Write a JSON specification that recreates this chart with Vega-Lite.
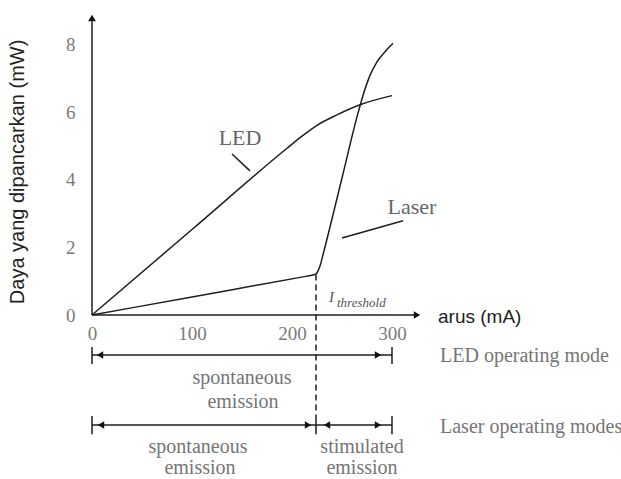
{
  "$schema": "https://vega.github.io/schema/vega-lite/v6.json",
  "width": 621,
  "height": 479,
  "padding": 0,
  "autosize": {"type": "none"},
  "background": "white",
  "config": {"view": {"stroke": null}},
  "datasets": {
    "curves": [
      {"series": "LED", "x": 0, "y": 0},
      {"series": "LED", "x": 100, "y": 2.533},
      {"series": "LED", "x": 195, "y": 4.94},
      {"series": "LED", "x": 210, "y": 5.3},
      {"series": "LED", "x": 225, "y": 5.62},
      {"series": "LED", "x": 245, "y": 5.93},
      {"series": "LED", "x": 270, "y": 6.25},
      {"series": "LED", "x": 300, "y": 6.5},
      {"series": "Laser", "x": 0, "y": 0},
      {"series": "Laser", "x": 100, "y": 0.536},
      {"series": "Laser", "x": 215, "y": 1.152},
      {"series": "Laser", "x": 220, "y": 1.179},
      {"series": "Laser", "x": 224, "y": 1.22},
      {"series": "Laser", "x": 228, "y": 1.45},
      {"series": "Laser", "x": 232, "y": 1.9},
      {"series": "Laser", "x": 250, "y": 4.06},
      {"series": "Laser", "x": 266, "y": 5.98},
      {"series": "Laser", "x": 272, "y": 6.6},
      {"series": "Laser", "x": 278, "y": 7.1},
      {"series": "Laser", "x": 285, "y": 7.5},
      {"series": "Laser", "x": 293, "y": 7.8},
      {"series": "Laser", "x": 301, "y": 8.05}
    ],
    "rules": [
      {"part": "y-axis", "x": 0, "y": 0, "x2": 0, "y2": 8.7},
      {"part": "x-axis", "x": 0, "y": 0, "x2": 322, "y2": 0},
      {"part": "LED pointer", "x": 140, "y": 4.77, "x2": 158, "y2": 4.27},
      {"part": "Laser pointer", "x": 250, "y": 2.28, "x2": 311, "y2": 2.79},
      {"part": "LED mode", "x": 0, "y": -1.185, "x2": 300, "y2": -1.185},
      {"part": "LED mode start", "x": 0, "y": -0.948, "x2": 0, "y2": -1.452},
      {"part": "LED mode end", "x": 300, "y": -0.948, "x2": 300, "y2": -1.452},
      {"part": "Laser modes", "x": 0, "y": -3.259, "x2": 300, "y2": -3.259},
      {"part": "Laser start", "x": 0, "y": -2.99, "x2": 0, "y2": -3.53},
      {"part": "Laser threshold", "x": 224, "y": -2.99, "x2": 224, "y2": -3.53},
      {"part": "Laser end", "x": 300, "y": -2.99, "x2": 300, "y2": -3.53}
    ],
    "threshold": [
      {"x": 224, "y": 1.2, "x2": 224, "y2": -3.0}
    ],
    "arrows": [
      {"dir": "up", "x": 0, "y": 8.8},
      {"dir": "right", "x": 325, "y": 0},
      {"dir": "left", "x": 8, "y": -1.185},
      {"dir": "right", "x": 286, "y": -1.185},
      {"dir": "left", "x": 9, "y": -3.259},
      {"dir": "right", "x": 216, "y": -3.259},
      {"dir": "left", "x": 235, "y": -3.259},
      {"dir": "right", "x": 286, "y": -3.259}
    ],
    "labels": [
      {"grp": "big", "text": "LED", "x": 148, "y": 5.24},
      {"grp": "big", "text": "Laser", "x": 320, "y": 3.2},
      {"grp": "mid", "text": "spontaneous", "x": 150, "y": -1.867},
      {"grp": "mid", "text": "emission", "x": 151, "y": -2.578},
      {"grp": "mid", "text": "spontaneous", "x": 106, "y": -3.911},
      {"grp": "mid", "text": "emission", "x": 108, "y": -4.533},
      {"grp": "mid", "text": "stimulated", "x": 270, "y": -3.911},
      {"grp": "mid", "text": "emission", "x": 270, "y": -4.533},
      {"grp": "side", "text": "LED operating mode", "x": 348, "y": -1.215},
      {"grp": "side", "text": "Laser operating modes", "x": 348, "y": -3.319},
      {"grp": "I", "text": "I", "x": 237, "y": 0.53},
      {"grp": "sub", "text": "threshold", "x": 245, "y": 0.36},
      {"grp": "xtitle", "text": "arus (mA)", "x": 346, "y": -0.06},
      {"grp": "ytitle", "text": "Daya yang dipancarkan (mW)", "x": -74, "y": 4.24}
    ]
  },
  "encoding": {
    "x": {
      "field": "x",
      "type": "quantitative",
      "scale": {"domain": [-92, 529], "nice": false, "zero": false},
      "axis": {
        "orient": "bottom",
        "offset": -164,
        "values": [0, 100, 200, 300],
        "domain": false,
        "ticks": false,
        "tickSize": 0,
        "grid": false,
        "title": null,
        "labelPadding": 9,
        "labelFont": "Liberation Serif",
        "labelFontSize": 19,
        "labelColor": "#7a7a7a"
      }
    },
    "y": {
      "field": "y",
      "type": "quantitative",
      "scale": {"domain": [-4.859, 9.333], "nice": false, "zero": false},
      "axis": {
        "orient": "left",
        "offset": -92,
        "values": [0, 2, 4, 6, 8],
        "domain": false,
        "ticks": false,
        "tickSize": 0,
        "grid": false,
        "title": null,
        "labelPadding": 17,
        "labelFont": "Liberation Serif",
        "labelFontSize": 19,
        "labelColor": "#7a7a7a"
      }
    }
  },
  "layer": [
    {
      "data": {"name": "curves"},
      "mark": {"type": "line", "interpolate": "monotone", "color": "#1e1e1e", "strokeWidth": 1.5},
      "encoding": {"detail": {"field": "series"}}
    },
    {
      "data": {"name": "rules"},
      "mark": {"type": "rule", "color": "#1e1e1e", "strokeWidth": 1.5},
      "encoding": {"x2": {"field": "x2"}, "y2": {"field": "y2"}}
    },
    {
      "data": {"name": "threshold"},
      "mark": {"type": "rule", "color": "#1e1e1e", "strokeWidth": 1.5, "strokeDash": [6, 4]},
      "encoding": {"x2": {"field": "x2"}, "y2": {"field": "y2"}}
    },
    {
      "data": {"name": "arrows"},
      "transform": [{"filter": "datum.dir === 'up'"}],
      "mark": {"type": "point", "shape": "triangle-up", "filled": true, "color": "#111", "size": 60, "opacity": 1}
    },
    {
      "data": {"name": "arrows"},
      "transform": [{"filter": "datum.dir === 'right'"}],
      "mark": {"type": "point", "shape": "triangle-right", "filled": true, "color": "#111", "size": 55, "opacity": 1}
    },
    {
      "data": {"name": "arrows"},
      "transform": [{"filter": "datum.dir === 'left'"}],
      "mark": {"type": "point", "shape": "triangle-left", "filled": true, "color": "#111", "size": 55, "opacity": 1}
    },
    {
      "data": {"name": "labels"},
      "transform": [{"filter": "datum.grp === 'big'"}],
      "mark": {"type": "text", "font": "Liberation Serif", "fontSize": 22, "color": "#666", "align": "center", "baseline": "middle"},
      "encoding": {"text": {"field": "text"}}
    },
    {
      "data": {"name": "labels"},
      "transform": [{"filter": "datum.grp === 'mid'"}],
      "mark": {"type": "text", "font": "Liberation Serif", "fontSize": 20, "color": "#757575", "align": "center", "baseline": "middle"},
      "encoding": {"text": {"field": "text"}}
    },
    {
      "data": {"name": "labels"},
      "transform": [{"filter": "datum.grp === 'side'"}],
      "mark": {"type": "text", "font": "Liberation Serif", "fontSize": 20, "color": "#757575", "align": "left", "baseline": "middle"},
      "encoding": {"text": {"field": "text"}}
    },
    {
      "data": {"name": "labels"},
      "transform": [{"filter": "datum.grp === 'I'"}],
      "mark": {"type": "text", "font": "Liberation Serif", "fontStyle": "italic", "fontSize": 15, "color": "#555", "align": "left", "baseline": "middle"},
      "encoding": {"text": {"field": "text"}}
    },
    {
      "data": {"name": "labels"},
      "transform": [{"filter": "datum.grp === 'sub'"}],
      "mark": {"type": "text", "font": "Liberation Serif", "fontStyle": "italic", "fontSize": 13, "color": "#555", "align": "left", "baseline": "middle"},
      "encoding": {"text": {"field": "text"}}
    },
    {
      "data": {"name": "labels"},
      "transform": [{"filter": "datum.grp === 'xtitle'"}],
      "mark": {"type": "text", "font": "Liberation Sans", "fontSize": 19, "color": "#222", "align": "left", "baseline": "middle"},
      "encoding": {"text": {"field": "text"}}
    },
    {
      "data": {"name": "labels"},
      "transform": [{"filter": "datum.grp === 'ytitle'"}],
      "mark": {"type": "text", "font": "Liberation Sans", "fontSize": 20, "color": "#222", "align": "center", "baseline": "middle", "angle": 270},
      "encoding": {"text": {"field": "text"}}
    }
  ]
}
